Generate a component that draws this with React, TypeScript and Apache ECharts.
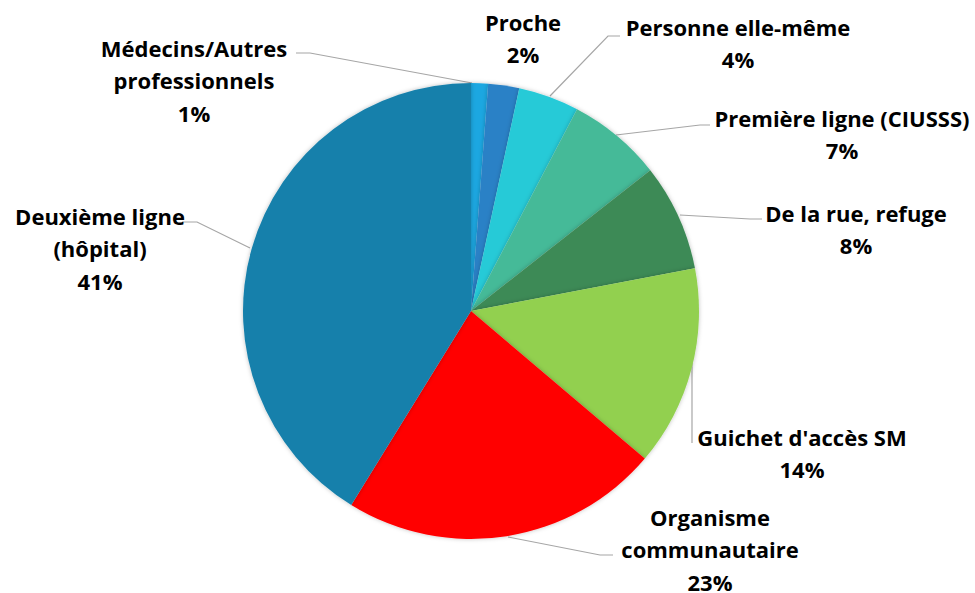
import React, { useEffect, useRef } from "react";
import * as echarts from "echarts";

const categories = [
  "Médecins/Autres\nprofessionnels",
  "Proche",
  "Personne elle-même",
  "Première ligne (CIUSSS)",
  "De la rue, refuge",
  "Guichet d'accès SM",
  "Organisme\ncommunautaire",
  "Deuxième ligne\n(hôpital)",
];
const values = [1.2, 2.2, 4.3, 6.7, 7.6, 14.2, 22.6, 41.2];
const colors = ["#1BA7E1", "#2A81C6", "#27CAD7", "#45BA98", "#3D8A57", "#92D050", "#FF0000", "#1880AB"];

// label layout (positions only)
const labelPos: [number, number][] = [
  [194, 80], [523, 38], [738, 43], [842, 134], [856, 229], [802, 453], [710, 549], [100, 248],
];
const linePts: (number[][] | null)[] = [
  [[472, 83], [310, 53], [296, 53]],
  null,
  [[550, 96], [608, 36], [620, 36]],
  [[616, 135], [700, 125], [710, 125]],
  [[680, 215], [750, 219], [762, 219]],
  [[692, 363], [692, 443]],
  [[508, 537], [600, 555], [613, 555]],
  [[250, 248], [197, 222], [182, 222]],
];

export default function App() {
  const ref = useRef<HTMLDivElement>(null);
  useEffect(() => {
    if (!ref.current) return;
    const chart = echarts.init(ref.current, null, { renderer: "svg" });
    chart.setOption({
      animation: false,
      backgroundColor: "#fff",
      series: [
        {
          type: "pie",
          center: [471, 311],
          radius: 228,
          startAngle: 90,
          clockwise: true,
          avoidLabelOverlap: false,
          percentPrecision: 0,
          minShowLabelAngle: 0,
          data: categories.map((name, i) => ({
            name,
            value: values[i],
            itemStyle: { color: colors[i] },
            labelLine: { show: linePts[i] !== null },
          })),
          itemStyle: {
            shadowBlur: 4,
            shadowColor: "rgba(0,0,0,0.25)",
          },
          label: {
            show: true,
            position: "outside",
            formatter: "{b}\n{d}%",
            fontFamily: "Open Sans",
            fontWeight: "bold",
            fontSize: 22,
            lineHeight: 32.5,
            color: "#000",
            align: "center",
          },
          labelLine: {
            show: true,
            lineStyle: { color: "#A6A6A6", width: 1.2 },
          },
          labelLayout: (params: any) => {
            const i = params.dataIndex;
            const res: any = {
              x: labelPos[i][0],
              y: labelPos[i][1],
              align: "center",
              verticalAlign: "middle",
            };
            if (linePts[i]) res.labelLinePoints = linePts[i];
            return res;
          },
        },
      ],
    });
    return () => chart.dispose();
  }, []);
  return (
    <div
      ref={ref}
      style={{ position: "fixed", left: 0, top: 0, width: 975, height: 593 }}
    />
  );
}
